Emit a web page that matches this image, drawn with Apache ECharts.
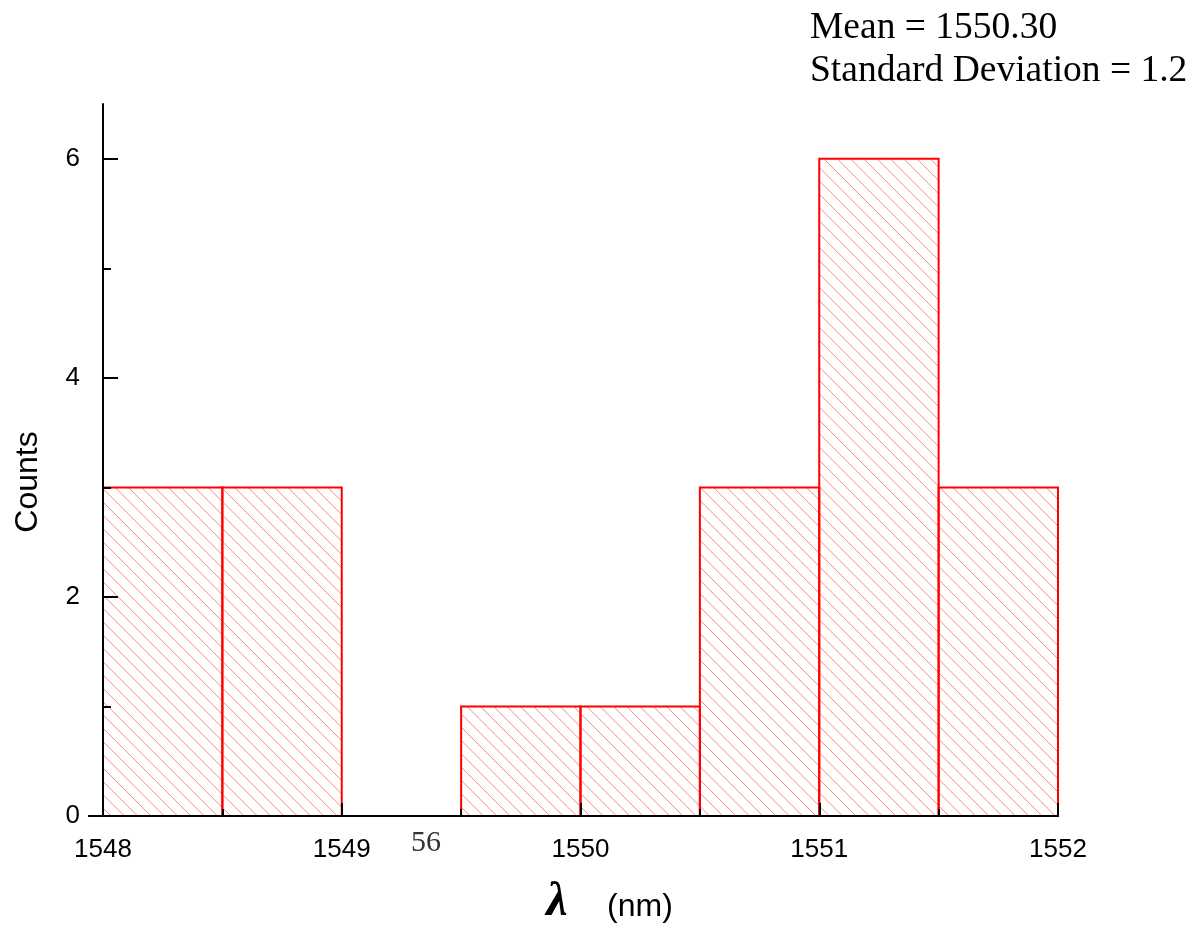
<!DOCTYPE html>
<html>
<head>
<meta charset="utf-8">
<script src="https://cdn.jsdelivr.net/npm/echarts@6/dist/echarts.min.js"></script>
<style>
  html, body { margin: 0; padding: 0; background: #ffffff; }
  #chart { width: 1192px; height: 928px; }
</style>
</head>
<body>
<div id="chart"></div>
<script>
// Histogram of wavelengths: bin edges (nm) and counts per bin
const binEdges = [1548, 1548.5, 1549, 1549.5, 1550, 1550.5, 1551, 1551.5, 1552];
const counts = [3, 3, 0, 1, 1, 3, 6, 3];
const xTicks = [1548, 1549, 1550, 1551, 1552];
const yMajorTicks = [0, 2, 4, 6];
const yMinorTicks = [1, 3, 5];
const statLines = ['Mean = 1550.30', 'Standard Deviation = 1.2'];
const yTitle = 'Counts';
const xTitleSymbol = 'λ';
const xTitleUnit = '(nm)';
const strayLabel = '56';

const W = 1192, H = 928;
const grid = { left: 103, right: 134, top: 104, bottom: 112 };
const HATCH_STEP = 13.3;

const bins = counts.map((v, i) => [binEdges[i], binEdges[i + 1], v]);

// diagonal "\" hatch lines clipped to a rectangle
function hatchLines(X0, Y0, X1, Y1) {
  const out = [];
  const cStart = Math.ceil((X0 - Y1) / HATCH_STEP) * HATCH_STEP;
  for (let c = cStart; c <= X1 - Y0; c += HATCH_STEP) {
    const ys = Math.max(Y0, X0 - c);
    const ye = Math.min(Y1, X1 - c);
    if (ye - ys < 0.5) continue;
    out.push({
      type: 'line',
      shape: { x1: c + ys, y1: ys, x2: c + ye, y2: ye },
      style: { stroke: '#ff8585', lineWidth: 1 },
      silent: true
    });
  }
  return out;
}

const chart = echarts.init(document.getElementById('chart'), null, { renderer: 'canvas' });

const sans = '"Liberation Sans", Arial, sans-serif';
const serif = '"Liberation Serif", "Times New Roman", serif';
const plain = v => String(v);

chart.setOption({
  animation: false,
  backgroundColor: '#ffffff',
  grid: Object.assign({ containLabel: false }, grid),
  xAxis: {
    type: 'value',
    min: xTicks[0],
    max: xTicks[xTicks.length - 1],
    interval: 1,
    z: 5,
    axisLine: { show: true, lineStyle: { color: '#000', width: 2 } },
    axisTick: { show: true, inside: true, length: 13, lineStyle: { color: '#000', width: 2 } },
    minorTick: { show: true, splitNumber: 2, length: 7, lineStyle: { color: '#000', width: 2 } },
    splitLine: { show: false },
    minorSplitLine: { show: false },
    axisLabel: { color: '#000', fontSize: 26, fontFamily: sans, margin: 21, formatter: plain }
  },
  yAxis: [{
    type: 'value',
    min: 0,
    max: 6.5,
    interval: 2,
    z: 5,
    axisLine: { show: true, lineStyle: { color: '#000', width: 2 } },
    axisTick: { show: true, inside: true, length: 15, customValues: yMajorTicks, lineStyle: { color: '#000', width: 2 } },
    splitLine: { show: false },
    axisLabel: { color: '#000', fontSize: 26, fontFamily: sans, margin: 23, customValues: yMajorTicks, formatter: plain }
  }, {
    type: 'value',
    min: 0,
    max: 6.5,
    interval: 1,
    position: 'left',
    offset: 0,
    z: 5,
    axisLine: { show: false },
    axisTick: { show: true, inside: true, length: 8, customValues: yMinorTicks, lineStyle: { color: '#000', width: 2 } },
    splitLine: { show: false },
    axisLabel: { show: false }
  }],
  series: [{
    type: 'custom',
    z: 2,
    data: bins,
    encode: { x: [0, 1], y: 2 },
    renderItem(params, api) {
      const x0 = api.value(0), x1 = api.value(1), v = api.value(2);
      if (!v) return null;
      const top = api.coord([x0, v]);
      const bottom = api.coord([x1, 0]);
      return {
        type: 'group',
        children: hatchLines(top[0], top[1], bottom[0], bottom[1]).concat([{
          type: 'rect',
          shape: { x: top[0], y: top[1], width: bottom[0] - top[0], height: bottom[1] - top[1] },
          style: { fill: null, stroke: '#ff0000', lineWidth: 2 }
        }])
      };
    }
  }],
  graphic: [
    // axis base line extends a little to the left of the y axis
    { type: 'line', z: 10, shape: { x1: grid.left - 15, y1: H - grid.bottom, x2: grid.left, y2: H - grid.bottom },
      style: { stroke: '#000', lineWidth: 2 } },
    { type: 'text', x: 810, y: 28, style: { text: statLines[0], font: '37.5px ' + serif, fill: '#000', align: 'left', verticalAlign: 'middle' } },
    { type: 'text', x: 810, y: 71, style: { text: statLines[1], font: '37.5px ' + serif, fill: '#000', align: 'left', verticalAlign: 'middle' } },
    { type: 'text', x: 28, y: 482, rotation: Math.PI / 2, style: { text: yTitle, font: '32px ' + sans, fill: '#000', align: 'center', verticalAlign: 'middle' } },
    { type: 'text', x: 557, y: 903, style: { text: xTitleSymbol, font: 'italic bold 48px ' + serif, fill: '#000', align: 'center', verticalAlign: 'middle' } },
    { type: 'text', x: 640, y: 907, style: { text: xTitleUnit, font: '32px ' + sans, fill: '#000', align: 'center', verticalAlign: 'middle' } },
    { type: 'text', x: 426, y: 843, style: { text: strayLabel, font: '30px ' + serif, fill: '#333', align: 'center', verticalAlign: 'middle' } }
  ]
});
</script>
</body>
</html>
